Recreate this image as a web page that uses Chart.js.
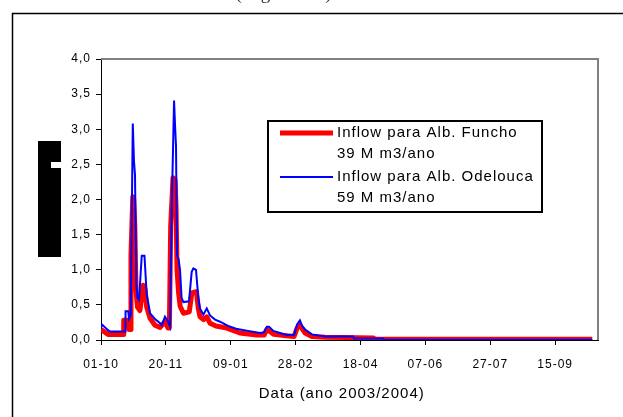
<!DOCTYPE html>
<html lang="pt">
<head>
<meta charset="UTF-8">
<title>Inflow Funcho / Odelouca</title>
<style>
  html, body { margin: 0; padding: 0; background: #fff; }
  canvas { display: block; }
</style>
</head>
<body>
<canvas id="canvas" width="623" height="417"></canvas>

<script src="https://cdn.jsdelivr.net/npm/chart.js@4"></script>
<script>
// day index counted from 01-10-2003
const tickDays = [0, 50, 100, 150, 200, 250, 300, 350];
const tickLabels = ['01-10', '20-11', '09-01', '28-02', '18-04', '07-06', '27-07', '15-09'];

const funchoDays = [0, 5.4, 17, 17.5, 21, 21.6, 22.7, 23.1, 24.5, 25.2, 26, 27, 28.1, 30, 32.5, 34, 35.2, 37.8,
  41.6, 45.5, 49.3, 51.7, 52.7, 53.7, 55.5, 57.1, 57.8, 58.6, 59.8, 61, 63.5, 68, 70, 73.5, 75, 76.3, 79,
  81.5, 84, 88.6, 97, 107, 120, 125.7, 127.8, 129.5, 133, 143, 148.8, 151.1, 153.3, 155, 157.3, 162.5,
  172.7, 210, 211, 378.6];
const funchoValues = [0.15, 0.08, 0.08, 0.28, 0.28, 0.15, 0.15, 1.2, 2.04, 2.0, 1.65, 0.7, 0.47, 0.42, 0.78, 0.72, 0.47, 0.31,
  0.21, 0.18, 0.26, 0.17, 0.17, 1.62, 2.31, 2.28, 1.9, 1.0, 0.67, 0.48, 0.38, 0.4, 0.67, 0.69, 0.45, 0.33, 0.29,
  0.33, 0.24, 0.2, 0.17, 0.1, 0.07, 0.07, 0.15, 0.13, 0.08, 0.06, 0.05, 0.17, 0.21, 0.16, 0.1, 0.05,
  0.04, 0.03, 0.01, 0.01];

const odeloucaDays = [0, 0.8, 5.4, 6.9, 18.5, 18.9, 21, 21.6, 22.9, 24.5, 25.4, 26.2, 27.2, 28.1, 29.3, 31.4, 33.5,
  35.2, 36.5, 37.8, 41.6, 45.5, 46.8, 49.3, 51.7, 53.2, 54.5, 56.3, 57.1, 57.8, 58.6, 59.8, 60.9, 62.1, 63.5,
  67.8, 69.9, 71.2, 73.2, 75, 76.3, 78.9, 81.5, 84, 87.9, 91.7, 97.9, 104.1, 113.3, 122.6, 125.7, 127.8, 129.5,
  132.8, 138, 143.2, 148.8, 151.1, 153.3, 155, 157.3, 162.5, 172.7, 194.3, 195, 217.4, 218.2, 378.6];
const odeloucaValues = [0.17, 0.22, 0.14, 0.12, 0.12, 0.41, 0.41, 0.3, 0.35, 3.08, 2.55, 2.35, 0.8, 0.6, 0.57, 1.2, 1.2,
  0.65, 0.52, 0.38, 0.3, 0.24, 0.21, 0.33, 0.26, 0.19, 1.85, 3.41, 3.04, 2.76, 1.2, 1.15, 1.0, 0.6, 0.54,
  0.55, 0.97, 1.02, 1.0, 0.6, 0.45, 0.36, 0.45, 0.35, 0.29, 0.26, 0.2, 0.16, 0.13, 0.1, 0.11, 0.19, 0.19,
  0.13, 0.1, 0.07, 0.07, 0.22, 0.28, 0.2, 0.15, 0.08, 0.05, 0.05, 0.02, 0.02, 0.005, 0.005];

const funchoLegend = ['Inflow para Alb. Funcho', '39 M m3/ano'];
const odeloucaLegend = ['Inflow para Alb. Odelouca', '59 M m3/ano'];
const xTitle = 'Data (ano 2003/2004)';
const topText = '(Figura 10).';

const toPoints = (days, vals) => days.map((d, i) => ({ x: d, y: vals[i] }));

// Excel-like wide text
const spacing = {
  id: 'spacing',
  beforeDraw(chart) { chart.ctx.letterSpacing = '1px'; }
};

const plotFrame = {
  id: 'plotFrame',
  beforeDatasetsDraw(chart) {
    const { ctx, chartArea: a } = chart;
    ctx.save();
    ctx.strokeStyle = '#808080';
    ctx.lineWidth = 2;
    ctx.beginPath();
    ctx.moveTo(a.left, a.top);
    ctx.lineTo(a.right, a.top);
    ctx.lineTo(a.right, a.bottom);
    ctx.stroke();
    ctx.restore();
  }
};

const decorations = {
  id: 'decorations',
  afterDraw(chart) {
    const ctx = chart.ctx;
    ctx.save();
    // outer frame
    ctx.strokeStyle = '#000';
    ctx.lineWidth = 1.5;
    ctx.beginPath();
    ctx.moveTo(12.5, 430);
    ctx.lineTo(12.5, 13.5);
    ctx.lineTo(640, 13.5);
    ctx.stroke();

    // caption line above the frame, mostly cut off by the page edge
    ctx.fillStyle = '#333';
    ctx.font = '19px "Liberation Serif"';
    ctx.textAlign = 'center';
    ctx.textBaseline = 'alphabetic';
    ctx.fillText(topText, 287, -1.5);

    // blacked-out y axis title
    ctx.fillStyle = '#000';
    ctx.fillRect(38, 141, 23, 116);
    ctx.fillStyle = '#fff';
    ctx.fillRect(51, 162, 10, 6);

    // legend
    const x0 = 268, y0 = 121, w = 274, h = 91;
    ctx.fillStyle = '#fff';
    ctx.fillRect(x0, y0, w, h);
    ctx.strokeStyle = '#000';
    ctx.lineWidth = 2;
    ctx.strokeRect(x0, y0, w, h);

    const ds = chart.data.datasets;
    const entries = [
      { d: ds[1], lines: funchoLegend, y: 133 },
      { d: ds[0], lines: odeloucaLegend, y: 177 }
    ];
    ctx.font = '15px "Liberation Sans"';
    ctx.textAlign = 'left';
    ctx.textBaseline = 'middle';
    entries.forEach(e => {
      ctx.strokeStyle = e.d.borderColor;
      ctx.lineWidth = e.d.borderWidth;
      ctx.beginPath();
      ctx.moveTo(280, e.y);
      ctx.lineTo(333, e.y);
      ctx.stroke();
      ctx.fillStyle = '#000';
      e.lines.forEach((t, i) => ctx.fillText(t, 337, e.y + i * 20.5));
    });
    ctx.restore();
  }
};

new Chart(document.getElementById('canvas').getContext('2d'), {
  type: 'line',
  data: {
    datasets: [
      {
        label: odeloucaLegend.join(' '),
        data: toPoints(odeloucaDays, odeloucaValues),
        borderColor: '#0000ff',
        borderWidth: 2,
        pointRadius: 0,
        tension: 0,
        order: 0
      },
      {
        label: funchoLegend.join(' '),
        data: toPoints(funchoDays, funchoValues),
        borderColor: '#ff0000',
        borderWidth: 5,
        borderJoinStyle: 'round',
        pointRadius: 0,
        tension: 0,
        order: 1
      }
    ]
  },
  options: {
    responsive: false,
    animation: false,
    layout: { padding: { top: 59, right: 25, left: 0, bottom: 0 } },
    plugins: {
      legend: { display: false },
      tooltip: { enabled: false }
    },
    scales: {
      x: {
        type: 'linear',
        min: 0,
        max: 383,
        afterBuildTicks: (s) => { s.ticks = tickDays.map(v => ({ value: v })); },
        afterFit: (s) => { s.height = 77; },
        grid: { drawOnChartArea: false, drawTicks: true, tickLength: 5, color: '#000' },
        border: { display: true, color: '#000', width: 1 },
        ticks: {
          autoSkip: false,
          maxRotation: 0,
          padding: 12,
          color: '#000',
          font: { family: '"Liberation Sans"', size: 12 },
          callback: (v) => tickLabels[tickDays.indexOf(v)]
        },
        title: {
          display: true,
          text: xTitle + '\u00a0\u00a0\u00a0',
          color: '#000',
          font: { family: '"Liberation Sans"', size: 15 },
          padding: { top: 0, bottom: 14 }
        }
      },
      y: {
        min: 0,
        max: 4,
        afterFit: (s) => { s.width = 101; },
        grid: { drawOnChartArea: false, drawTicks: true, tickLength: 5, color: '#000' },
        border: { display: true, color: '#000', width: 1 },
        ticks: {
          stepSize: 0.5,
          padding: 5,
          color: '#000',
          font: { family: '"Liberation Sans"', size: 12 },
          callback: (v) => v.toFixed(1).replace('.', ',')
        }
      }
    }
  },
  plugins: [spacing, plotFrame, decorations]
});
</script>
</body>
</html>
